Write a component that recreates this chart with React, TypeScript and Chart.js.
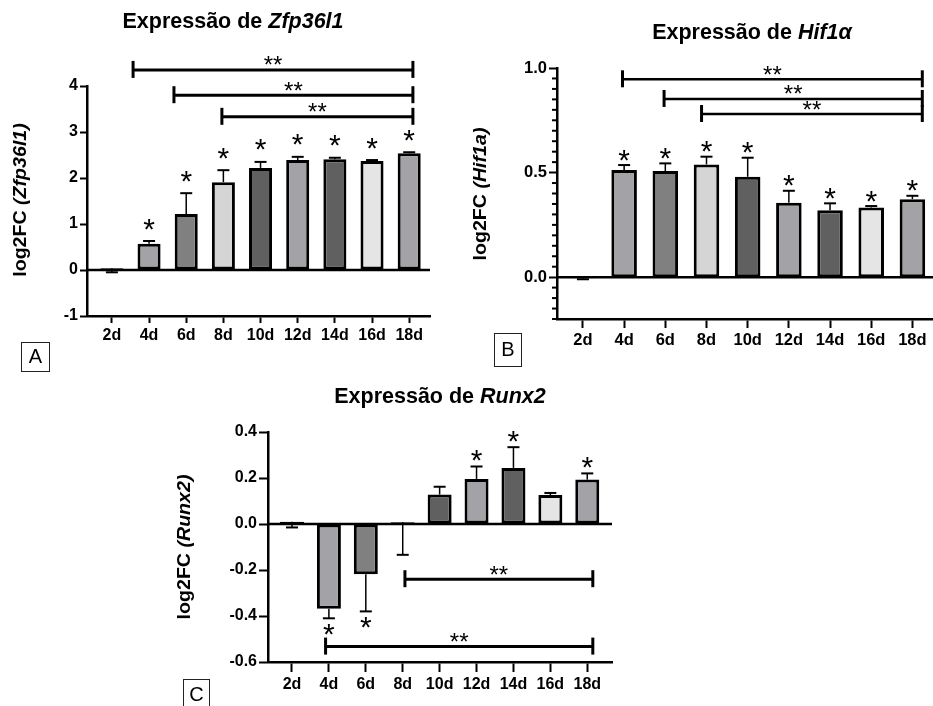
import React, { useEffect, useRef } from 'react';
import { Chart, registerables } from 'chart.js';

Chart.register(...registerables);

const FONT = "'Liberation Sans', Arial, Helvetica, sans-serif";

// ---------- data ----------
const days = ['2d', '4d', '6d', '8d', '10d', '12d', '14d', '16d', '18d'];
const barFills = ['#8c8c8c', '#a3a3a7', '#808080', '#d5d5d5', '#606060', '#a3a3a7', '#606060', '#e5e5e5', '#a3a3a7'];

// Zfp36l1 (panel A)
const zfpValues = [0.04, 0.57, 1.22, 1.91, 2.22, 2.39, 2.41, 2.37, 2.54];
const zfpErrors = [-0.09, 0.06, 0.45, 0.26, 0.13, 0.07, 0.03, 0.02, 0.02]; // signed: + up, - down
const zfpStars = [false, true, true, true, true, true, true, true, true];
const zfpBrackets = [
  { from: 0.57, to: 8.1, y: 4.35 },
  { from: 1.67, to: 8.1, y: 3.8 },
  { from: 2.96, to: 8.1, y: 3.33 },
];

// Hif1a (panel B)
const hifValues = [-0.005, 0.512, 0.507, 0.539, 0.48, 0.356, 0.32, 0.333, 0.373];
const hifErrors = [-0.005, 0.024, 0.037, 0.037, 0.091, 0.057, 0.033, 0.007, 0.016];
const hifStars = [false, true, true, true, true, true, true, true, true];
const hifBrackets = [
  { from: 0.96, to: 8.24, y: 0.946 },
  { from: 1.97, to: 8.24, y: 0.852 },
  { from: 2.88, to: 8.24, y: 0.78 },
];

// Runx2 (panel C)
const runxValues = [0.01, -0.368, -0.218, 0.008, 0.128, 0.196, 0.244, 0.126, 0.193];
const runxErrors = [-0.025, -0.042, -0.162, -0.142, 0.034, 0.054, 0.09, 0.009, 0.027];
const runxStars = [false, true, true, false, false, true, true, false, true];
const runxBrackets = [
  { from: 3.06, to: 8.15, y: -0.24 },
  { from: 0.91, to: 8.15, y: -0.533 },
];

// ---------- types ----------
type Bracket = { from: number; to: number; y: number };
interface PanelSpec {
  left: number; top: number; width: number; height: number;
  area: { left: number; right: number; top: number; bottom: number };
  xMin: number; xMax: number;
  yMin: number; yMax: number; yStep: number; yMajor: number; yDecimals: number;
  values: number[]; errors: number[]; stars: boolean[]; brackets: Bracket[];
  titleGene: string; labelGene: string;
  titleX: number; titleBaseline: number;
  ylabelX: number; ylabelY: number;
  tickFont: number; xTickLen: number; yTickLen: number; yMinorLen: number;
  barPct: number; starGap: number; bracketWidth: number;
}

const STAR_SIZE = 30;
const DSTAR_SIZE = 24;

function drawCenteredText(ctx: CanvasRenderingContext2D, text: string, x: number, cy: number, font: string) {
  ctx.font = font;
  ctx.textAlign = 'center';
  ctx.textBaseline = 'alphabetic';
  const m = ctx.measureText(text);
  const asc = m.actualBoundingBoxAscent;
  const desc = m.actualBoundingBoxDescent;
  ctx.fillText(text, x, cy + (asc - desc) / 2);
}

function drawMixed(ctx: CanvasRenderingContext2D, parts: { t: string; it: boolean }[], cx: number, y: number, size: number) {
  const fonts = parts.map((p) => `${p.it ? 'italic ' : ''}bold ${size}px ${FONT}`);
  const widths = parts.map((p, i) => { ctx.font = fonts[i]; return ctx.measureText(p.t).width; });
  const total = widths.reduce((a, b) => a + b, 0);
  let x = cx - total / 2;
  ctx.textAlign = 'left';
  parts.forEach((p, i) => { ctx.font = fonts[i]; ctx.fillText(p.t, x, y); x += widths[i]; });
}

function line(ctx: CanvasRenderingContext2D, x1: number, y1: number, x2: number, y2: number) {
  ctx.beginPath(); ctx.moveTo(x1, y1); ctx.lineTo(x2, y2); ctx.stroke();
}

function isMajor(v: number, major: number) {
  return Math.abs(v / major - Math.round(v / major)) < 1e-6;
}

function makePlugin(p: PanelSpec) {
  return {
    id: 'decor',
    afterDatasetsDraw(chart: any) {
      const ctx: CanvasRenderingContext2D = chart.ctx;
      const xs = chart.scales.x; const ys = chart.scales.y; const ca = chart.chartArea;
      ctx.save();
      ctx.strokeStyle = '#000'; ctx.fillStyle = '#000'; ctx.lineCap = 'butt';
      // zero line
      const y0 = ys.getPixelForValue(0);
      ctx.lineWidth = 2.5;
      line(ctx, ca.left, y0, ca.right, y0);
      // minor ticks
      if (p.yMinorLen > 0) {
        ctx.lineWidth = 2;
        ys.ticks.forEach((t: any) => {
          if (!isMajor(t.value, p.yMajor)) {
            const py = ys.getPixelForValue(t.value);
            line(ctx, ca.left - p.yMinorLen, py, ca.left, py);
          }
        });
      }
      // error bars and stars
      p.values.forEach((v, i) => {
        const px = xs.getPixelForValue(i);
        const pv = ys.getPixelForValue(v);
        const pe = ys.getPixelForValue(v + p.errors[i]);
        ctx.lineWidth = 1.5; line(ctx, px, pv, px, pe);
        ctx.lineWidth = 2; line(ctx, px - 6, pe, px + 6, pe);
        if (p.stars[i]) {
          const cy = v >= 0 ? Math.min(pv, pe) - p.starGap : Math.max(pv, pe) + p.starGap;
          drawCenteredText(ctx, '*', px, cy, `${STAR_SIZE}px ${FONT}`);
        }
      });
      // significance brackets
      p.brackets.forEach((b) => {
        const x1 = xs.getPixelForValue(b.from);
        const x2 = xs.getPixelForValue(b.to);
        const by = ys.getPixelForValue(b.y);
        ctx.lineWidth = p.bracketWidth;
        line(ctx, x1, by, x2, by);
        ctx.lineWidth = 3;
        line(ctx, x1, by - 9, x1, by + 8);
        line(ctx, x2, by - 9, x2, by + 8);
        drawCenteredText(ctx, '**', (x1 + x2) / 2, by - 9, `${DSTAR_SIZE}px ${FONT}`);
      });
      ctx.restore();
    },
    afterDraw(chart: any) {
      const ctx: CanvasRenderingContext2D = chart.ctx;
      ctx.save();
      ctx.fillStyle = '#000';
      ctx.textBaseline = 'alphabetic';
      drawMixed(ctx, [{ t: 'Expressão de ', it: false }, { t: p.titleGene, it: true }], p.titleX, p.titleBaseline, 21.5);
      ctx.translate(p.ylabelX, p.ylabelY);
      ctx.rotate(-Math.PI / 2);
      ctx.scale(1.12, 1);
      ctx.textBaseline = 'middle';
      drawMixed(ctx, [{ t: 'log2FC ', it: false }, { t: `(${p.labelGene})`, it: true }], 0, 0, 17.5);
      ctx.restore();
    },
  };
}

function Panel({ p }: { p: PanelSpec }) {
  const ref = useRef<HTMLCanvasElement | null>(null);
  useEffect(() => {
    if (!ref.current) return;
    const tickFont = { family: FONT, size: p.tickFont, weight: 'bold' as const };
    const chart = new Chart(ref.current, {
      type: 'bar',
      data: {
        datasets: [{
          data: p.values.map((v, i) => ({ x: i, y: v })),
          backgroundColor: barFills,
          borderColor: '#000',
          borderWidth: 3,
          borderSkipped: false,
          barPercentage: p.barPct,
          categoryPercentage: 1,
        }],
      },
      options: {
        responsive: false,
        animation: false,
        devicePixelRatio: 1,
        layout: { padding: { left: 0, top: p.area.top, right: p.width - p.area.right, bottom: 0 } },
        plugins: { legend: { display: false }, tooltip: { enabled: false }, title: { display: false } },
        scales: {
          x: {
            type: 'linear', min: p.xMin, max: p.xMax, offset: false,
            grid: { offset: false, drawOnChartArea: false, drawTicks: true, tickLength: p.xTickLen, tickColor: '#000', tickWidth: 2, color: 'rgba(0,0,0,0)' },
            border: { display: true, color: '#000', width: 2.5 },
            ticks: {
              stepSize: 1, includeBounds: false, autoSkip: false, maxRotation: 0, minRotation: 0, padding: 3,
              color: '#000', font: tickFont,
              callback: (v: any) => (Number.isInteger(v) ? days[v] ?? '' : ''),
            },
            afterFit: (s: any) => { s.height = p.height - p.area.bottom; },
          },
          y: {
            type: 'linear', min: p.yMin, max: p.yMax,
            grid: {
              drawOnChartArea: false, drawTicks: true, tickLength: p.yTickLen, tickWidth: 2, color: 'rgba(0,0,0,0)',
              tickColor: (c: any) => (c.tick && isMajor(c.tick.value, p.yMajor) ? '#000' : 'rgba(0,0,0,0)'),
            },
            border: { display: true, color: '#000', width: 2.5 },
            ticks: {
              stepSize: p.yStep, includeBounds: false, autoSkip: false, padding: 2, color: '#000', font: tickFont,
              callback: (v: any) => {
                const n = Number(v);
                if (!isMajor(n, p.yMajor)) return '';
                const r = Math.abs(n) < 1e-9 ? 0 : n;
                return r.toFixed(p.yDecimals);
              },
            },
            afterFit: (s: any) => { s.width = p.area.left; },
          },
        },
      } as any,
      plugins: [makePlugin(p)],
    });
    return () => chart.destroy();
  }, [p]);
  return (
    <canvas
      ref={ref}
      width={p.width}
      height={p.height}
      style={{ position: 'absolute', left: p.left, top: p.top, width: p.width, height: p.height }}
    />
  );
}

const panelA: PanelSpec = {
  left: 0, top: 0, width: 460, height: 380,
  area: { left: 87, right: 430, top: 86, bottom: 316 },
  xMin: -0.67, xMax: 8.56, yMin: -1, yMax: 4, yStep: 1, yMajor: 1, yDecimals: 0,
  values: zfpValues, errors: zfpErrors, stars: zfpStars, brackets: zfpBrackets,
  titleGene: 'Zfp36l1', labelGene: 'Zfp36l1', titleX: 233, titleBaseline: 28,
  ylabelX: 21, ylabelY: 200,
  tickFont: 16, xTickLen: 7, yTickLen: 7, yMinorLen: 0,
  barPct: 0.62, starGap: 17, bracketWidth: 3,
};

const panelB: PanelSpec = {
  left: 460, top: 0, width: 473, height: 380,
  area: { left: 97, right: 473, top: 68, bottom: 319 },
  xMin: -0.63, xMax: 8.5, yMin: -0.2, yMax: 1.0, yStep: 0.05, yMajor: 0.5, yDecimals: 1,
  values: hifValues, errors: hifErrors, stars: hifStars, brackets: hifBrackets,
  titleGene: 'Hif1α', labelGene: 'Hif1a', titleX: 292, titleBaseline: 39,
  ylabelX: 21, ylabelY: 194,
  tickFont: 16.5, xTickLen: 9, yTickLen: 8, yMinorLen: 5,
  barPct: 0.62, starGap: 10, bracketWidth: 2.5,
};

const panelC: PanelSpec = {
  left: 170, top: 380, width: 450, height: 326,
  area: { left: 98, right: 442, top: 52, bottom: 282 },
  xMin: -0.65, xMax: 8.67, yMin: -0.6, yMax: 0.4, yStep: 0.2, yMajor: 0.2, yDecimals: 1,
  values: runxValues, errors: runxErrors, stars: runxStars, brackets: runxBrackets,
  titleGene: 'Runx2', labelGene: 'Runx2', titleX: 270, titleBaseline: 23,
  ylabelX: 15, ylabelY: 167,
  tickFont: 16, xTickLen: 10, yTickLen: 9, yMinorLen: 0,
  barPct: 0.65, starGap: 11, bracketWidth: 3,
};

function LetterBox({ letter, left, top, w, h }: { letter: string; left: number; top: number; w: number; h: number }) {
  return (
    <div
      style={{
        position: 'absolute', left, top, width: w, height: h, boxSizing: 'border-box',
        border: '1.5px solid #222', fontFamily: FONT, fontSize: 20, lineHeight: `${h - 3}px`,
        textAlign: 'center', color: '#000',
      }}
    >
      {letter}
    </div>
  );
}

export default function App() {
  return (
    <div style={{ position: 'fixed', left: 0, top: 0, width: 933, height: 706, background: '#fff', overflow: 'hidden' }}>
      <Panel p={panelA} />
      <Panel p={panelB} />
      <Panel p={panelC} />
      <LetterBox letter="A" left={21} top={342} w={29} h={30} />
      <LetterBox letter="B" left={494} top={333} w={28} h={34} />
      <LetterBox letter="C" left={183} top={679} w={27} h={32} />
    </div>
  );
}
